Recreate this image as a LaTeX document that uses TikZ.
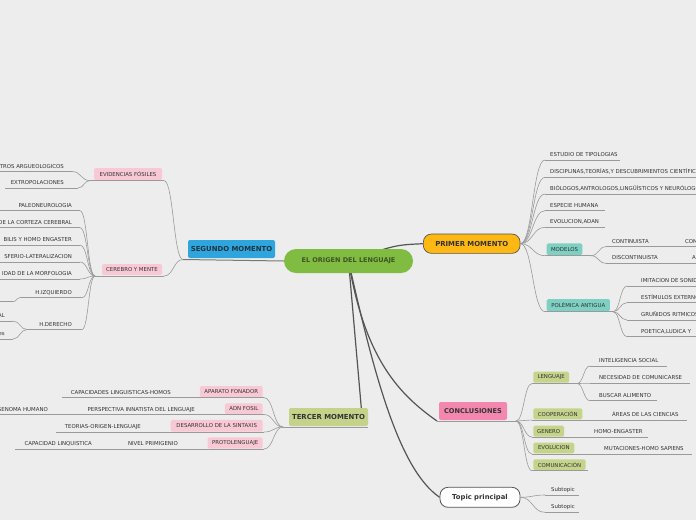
\documentclass[tikz,border=0pt]{standalone}
\usepackage{fontspec}
\setmainfont{DejaVu Sans}
\usetikzlibrary{calc}
\definecolor{bgc}{HTML}{EDEDED}
\definecolor{lin}{HTML}{9A9A9A}
\definecolor{trunkc}{HTML}{555555}
\definecolor{txt}{HTML}{333333}
\definecolor{cgreen}{HTML}{80BC41}
\definecolor{ctext}{HTML}{3E5424}
\definecolor{segblue}{HTML}{2EA6DD}
\definecolor{segtext}{HTML}{1F3442}
\definecolor{tergreen}{HTML}{C4D28A}
\definecolor{orng}{HTML}{FDB814}
\definecolor{cncpink}{HTML}{F387AF}
\definecolor{pinkt}{HTML}{F9C8D5}
\definecolor{tealt}{HTML}{7DD0C2}
\definecolor{greent}{HTML}{C5D48B}
\pgfdeclarelayer{back}
\pgfdeclarelayer{lines}
\pgfsetlayers{back,lines,main}
\tikzset{
  leaf/.style={font=\fontsize{5.4}{6}\selectfont, text=txt, inner sep=0pt},
  ul/.style={draw=lin, line width=0.6pt},
  br/.style={draw=lin, line width=0.6pt},
  tagb/.style={font=\fontsize{5.4}{6}\selectfont, text=txt, rounded corners=1.5pt, inner sep=0pt},
  mainb/.style={font=\bfseries\fontsize{6.9}{8}\selectfont, text=txt, inner sep=0pt},
  trunk/.style={draw=trunkc, line width=1.2pt},
}
\newcommand\leafL[6]{%
  \coordinate (#1-l) at (#2,#4); \coordinate (#1-r) at (#3,#4);
  \draw[ul] (#1-l) -- (#1-r);
  \node[leaf,anchor=base east] (#1) at (#5,#4-3.5) {#6};}
\newcommand\leafR[6]{%
  \coordinate (#1-l) at (#2,#4); \coordinate (#1-r) at (#3,#4);
  \draw[ul] (#1-l) -- (#1-r);
  \node[leaf,anchor=base west] (#1) at (#5,#4-3.5) {#6};}
\newcommand\brn[2]{\draw[br] let \p1=(#1), \p2=(#2) in (#1) .. controls ({(\x1+\x2)/2},\y1) and ({(\x1+\x2)/2},\y2) .. (#2);}
\begin{document}
\begin{tikzpicture}[x=1pt,y=-1pt]
\useasboundingbox (0,0) rectangle (696,520);
\clip (0,0) rectangle (696,520);
\begin{pgfonlayer}{back}
\fill[bgc] (0,0) rectangle (696,520);
\end{pgfonlayer}

% ---------- central
\node[fill=cgreen, rounded corners=12pt, minimum width=129pt, minimum height=24pt,
      inner sep=0pt, text=ctext, font=\bfseries\fontsize{6.5}{8}\selectfont] (c) at (348.5,261) {EL ORIGEN DEL LENGUAJE};

% ---------- SEGUNDO MOMENTO
\node[mainb, fill=segblue, text=segtext, rounded corners=2pt, minimum width=87pt, minimum height=18pt] (seg) at (231.5,249) {SEGUNDO MOMENTO};
\coordinate (seg-l) at (183,259.5);
\node[tagb, fill=pinkt, minimum width=68pt, minimum height=12pt] (evi) at (128,174.2) {EVIDENCIAS FÓSILES};
\coordinate (evi-l) at (90,180.6); \coordinate (evi-r) at (164,180.6);
\draw[ul] (evi-l) -- (evi-r);
\node[tagb, fill=pinkt, minimum width=60pt, minimum height=11pt] (cer) at (132,269.5) {CEREBRO Y MENTE};
\coordinate (cer-l) at (95,276); \coordinate (cer-r) at (164,276);
\draw[ul] (cer-l) -- (cer-r);
\brn{evi-r}{seg-l}
\brn{cer-r}{seg-l}

\leafL{arq}{-10}{72}{171.5}{64}{TROS ARGUEOLOGICOS}
\leafL{ext}{5}{78}{188}{64}{EXTROPOLACIONES}
\brn{arq-r}{evi-l}
\brn{ext-r}{evi-l}

\leafL{pal}{-5}{80}{210.7}{72}{PALEONEUROLOGIA}
\leafL{cor}{-5}{80}{227.7}{72}{DE LA CORTEZA CEREBRAL}
\leafL{hab}{-5}{80}{245}{72}{BILIS Y HOMO ENGASTER}
\leafL{hem}{-5}{80}{262}{72}{SFERIO-LATERALIZACION}
\leafL{mor}{-5}{80}{279}{72}{IDAD DE LA MORFOLOGIA}
\leafL{hiz}{20}{82}{297.7}{72}{H.IZQUIERDO}
\leafL{hde}{27}{82}{329.5}{72}{H.DERECHO}
\foreach \k in {pal,cor,hab,hem,mor,hiz,hde}{\brn{\k-r}{cer-l}}
\coordinate (hizc-l) at (-10,301.7); \coordinate (hizc-r) at (13,301.7);
\draw[ul] (hizc-l) -- (hizc-r);
\brn{hizc-r}{hiz-l}
\leafL{hdea}{-10}{13}{321}{5}{AL}
\leafL{hdeb}{-10}{13}{339}{5}{es}
\brn{hdea-r}{hde-l}
\brn{hdeb-r}{hde-l}

% ---------- TERCER MOMENTO
\node[mainb, fill=tergreen, rounded corners=2pt, minimum width=79pt, minimum height=18pt] (ter) at (328.5,417) {TERCER MOMENTO};
\coordinate (ter-l) at (283,427); \coordinate (ter-r) at (368,427);
\coordinate (ter-t) at (362,416);
\draw[ul] (ter-l) -- (ter-r);
\node[tagb, fill=pinkt, minimum width=62.7pt, minimum height=11.3pt] (apa) at (231.3,391.7) {APARATO FONADOR};
\coordinate (apa-l) at (198,397.6); \coordinate (apa-r) at (264,397.6);
\node[tagb, fill=pinkt, minimum width=37.7pt, minimum height=11pt] (adn) at (243.8,408.8) {ADN FOSIL};
\coordinate (adn-l) at (223,414.5); \coordinate (adn-r) at (264,414.5);
\node[tagb, fill=pinkt, minimum width=92pt, minimum height=11.7pt] (des) at (216.7,425.8) {DESARROLLO DE LA SINTAXIS};
\coordinate (des-l) at (168,432); \coordinate (des-r) at (264,432);
\node[tagb, fill=pinkt, minimum width=55pt, minimum height=11.3pt] (pro) at (235.2,443) {PROTOLENGUAJE};
\coordinate (pro-l) at (205,449); \coordinate (pro-r) at (264,449);
\foreach \k in {apa,adn,des,pro}{\draw[ul] (\k-l) -- (\k-r); \brn{\k-r}{ter-l}}
\leafL{cap}{62}{198}{397.6}{171}{CAPACIDADES LINGUISTICAS-HOMOS}
\leafL{per}{76}{223}{414.5}{195}{PERSPECTIVA INNATISTA DEL LENGUAJE}
\leafL{gen}{-10}{76}{414.5}{48}{GENOMA HUMANO}
\leafL{teo}{56}{168}{432}{141}{TEORIAS-ORIGEN-LENGUAJE}
\leafL{niv}{117}{205}{449}{178}{NIVEL PRIMIGENIO}
\leafL{cli}{15}{117}{449}{92}{CAPACIDAD LINQUISTICA}

% ---------- PRIMER MOMENTO
\node[mainb, fill=orng, draw=trunkc, line width=0.7pt, rounded corners=8pt, minimum width=96.7pt, minimum height=19.3pt] (pri) at (471.7,243.7) {PRIMER MOMENTO};
\coordinate (pri-r) at (pri.east);
\leafR{est}{545}{620}{160}{550}{ESTUDIO DE TIPOLOGIAS}
\leafR{dis}{545}{710}{177.3}{550}{DISCIPLINAS,TEORÍAS,Y DESCUBRIMIENTOS CIENTÍFICOS}
\leafR{bio}{545}{710}{194}{550}{BIÓLOGOS,ANTROLOGOS,LINGÜÍSTICOS Y NEURÓLOGOS}
\leafR{esp}{545}{605}{210.7}{550}{ESPECIE HUMANA}
\leafR{evo}{545}{605}{227.3}{550}{EVOLUCION,ADAN}
\node[tagb, fill=tealt, minimum width=35.6pt, minimum height=11.7pt] (mod) at (564.5,249.2) {MODELOS};
\coordinate (mod-l) at (545,255.7); \coordinate (mod-r) at (591,255.7);
\draw[ul] (mod-l) -- (mod-r);
\node[tagb, fill=tealt, minimum width=63.3pt, minimum height=12pt] (pol) at (578.3,305.2) {POLÉMICA ANTIGUA};
\coordinate (pol-l) at (545,311.7); \coordinate (pol-r) at (613,311.7);
\draw[ul] (pol-l) -- (pol-r);
\foreach \k in {est,dis,bio,esp,evo,mod,pol}{\brn{pri-r}{\k-l}}
\leafR{con}{606}{668}{246.7}{612}{CONTINUISTA}
\leafR{conc}{668}{710}{246.7}{685}{COM}
\leafR{dsc}{606}{668}{263.3}{612}{DISCONTINUISTA}
\leafR{dscc}{668}{710}{263.3}{692}{A}
\brn{mod-r}{con-l}
\brn{mod-r}{dsc-l}
\leafR{imi}{627}{710}{286}{641}{IMITACION DE SONIDOS}
\leafR{exs}{627}{710}{302.7}{641}{ESTÍMULOS EXTERNOS}
\leafR{gru}{627}{710}{320}{641}{GRUÑIDOS RITMICOS}
\leafR{poe}{627}{710}{336.7}{641}{POETICA,LUDICA Y}
\foreach \k in {imi,exs,gru,poe}{\brn{pol-r}{\k-l}}

% ---------- CONCLUSIONES
\node[mainb, fill=cncpink, rounded corners=2pt, minimum width=68pt, minimum height=18pt, font=\bfseries\fontsize{6.6}{8}\selectfont] (cnc) at (473,411) {CONCLUSIONES};
\coordinate (cnc-l) at (437,421); \coordinate (cnc-r) at (516,421);
\draw[ul] (cnc-l) -- (cnc-r);
\node[tagb, fill=greent, minimum width=35.7pt, minimum height=11pt] (len) at (551.2,377.2) {LENGUAJE};
\coordinate (len-l) at (532,383.5); \coordinate (len-r) at (577,383.5);
\node[tagb, fill=greent, minimum width=49pt, minimum height=11pt] (coo) at (557.8,413.8) {COOPERACIÓN};
\coordinate (coo-l) at (532,420); \coordinate (coo-r) at (586,420);
\node[tagb, fill=greent, minimum width=30.7pt, minimum height=11pt] (gnr) at (548.7,431.2) {GENERO};
\coordinate (gnr-l) at (532,437); \coordinate (gnr-r) at (567,437);
\node[tagb, fill=greent, minimum width=41pt, minimum height=10.7pt] (evl) at (553.8,448) {EVOLUCION};
\coordinate (evl-l) at (532,454); \coordinate (evl-r) at (577,454);
\node[tagb, fill=greent, minimum width=52.3pt, minimum height=10.7pt] (com) at (559.5,464.7) {COMUNICACIÓN};
\coordinate (com-l) at (532,470.7); \coordinate (com-r) at (588,470.7);
\foreach \k in {len,coo,gnr,evl,com}{\draw[ul] (\k-l) -- (\k-r); \brn{cnc-r}{\k-l}}
\leafR{int}{590}{667}{366}{599}{INTELIGENCIA SOCIAL}
\leafR{nec}{590}{690}{383.3}{599}{NECESIDAD DE COMUNICARSE}
\leafR{bus}{590}{657}{400.7}{599}{BUSCAR ALIMENTO}
\foreach \k in {int,nec,bus}{\brn{len-r}{\k-l}}
\leafR{are}{586}{687}{420}{612}{ÁREAS DE LAS CIENCIAS}
\leafR{hom}{567}{648}{437}{594}{HOMO-ENGASTER}
\leafR{mut}{577}{692}{454}{604}{MUTACIONES-HOMO SAPIENS}

% ---------- Topic principal
\node[fill=white, draw=trunkc, line width=0.8pt, rounded corners=8pt, minimum width=80pt, minimum height=20pt, inner sep=0pt, text=txt, font=\bfseries\fontsize{6.8}{8}\selectfont] (top) at (480,497.3) {Topic principal};
\coordinate (top-r) at (top.east);
\leafR{st1}{545}{579}{495}{551}{Subtopic}
\leafR{st2}{545}{579}{512.3}{551}{Subtopic}
\brn{top-r}{st1-l}
\brn{top-r}{st2-l}

% ---------- trunks
\begin{pgfonlayer}{lines}
\draw[draw=trunkc!80, line width=1pt] (seg-l) -- (c.west);
\draw[trunk] (c.center) .. controls (395,245) .. (pri.west);
\draw[trunk] (c.center) -- (ter-t);
\draw[trunk] (c.center) .. controls (365,360) and (400,395) .. (cnc-l);
\draw[trunk] (c.center) .. controls (375,380) and (400,470) .. (top.west);
\end{pgfonlayer}
\end{tikzpicture}
\end{document}
